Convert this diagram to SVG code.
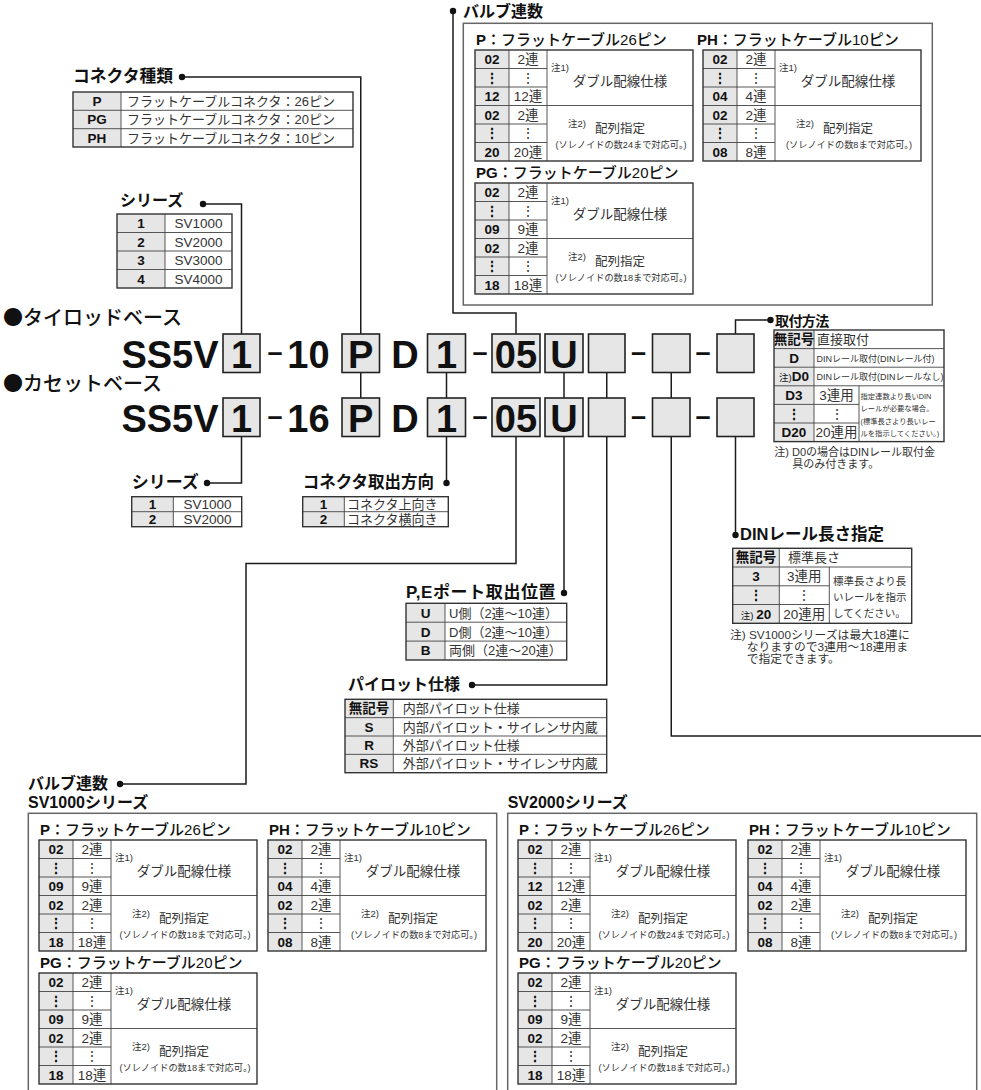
<svg xmlns="http://www.w3.org/2000/svg" width="981" height="1090" viewBox="0 0 981 1090">
<style>
text{font-family:"Liberation Sans","Noto Sans CJK JP",sans-serif;fill:#111}
.h{font-size:16px;font-weight:700}
.tt{font-size:15px;font-weight:500}
.b{font-weight:700}
.c{font-size:13.5px;font-weight:700;text-anchor:middle}
.v{font-size:13px;fill:#333}
.vm{font-size:13.5px;fill:#333;text-anchor:middle}
.n{font-size:9.5px;fill:#333}
.a{font-size:12.5px;fill:#333}
.s{font-size:9.2px;fill:#333;text-anchor:middle}
.t{font-size:10.5px;fill:#333}
.tiny{font-size:7.3px;fill:#333}
.big{font-size:38px;font-weight:700;text-anchor:middle}
.dash{font-size:27px;font-weight:700;text-anchor:middle}
.base{font-family:"Noto Sans CJK JP",sans-serif;font-size:20px;font-weight:500}
.ln{fill:none;stroke:#1a1a1a;stroke-width:1.5}
.box{fill:#e6e6e6;stroke:#222;stroke-width:1.6}
.tb{fill:none;stroke:#333;stroke-width:1.4}
.g{fill:#e6e6e6}
.il{fill:none;stroke:#444;stroke-width:0.9}
.fr{fill:none;stroke:#666;stroke-width:1.5}
.dot{fill:#111}
</style>
<defs>
<g id="vt">
<rect width="34" height="111" class="g"/>
<path class="il" d="M34 0V111M72 0V111M0 18.5H72M0 37H72M0 74H72M0 92.5H72M0 55.5H218"/>
<rect width="218" height="111" class="tb"/>
</g>
</defs>

<!-- connectors -->
<g id="connectors" class="ln">
<path d="M453 11V313H516V334"/>
<path d="M182 77H360.75V334"/>
<path d="M203 204H241.5V334"/>
<path d="M770.5 320H735.5V334"/>
<path d="M360.75 372.5V398M446.5 372.5V398M564 372.5V398M606.75 372.5V398M671.25 372.5V398"/>
<path d="M241.5 436.5V483H207"/>
<path d="M446.5 436.5V483"/>
<path d="M516 436.5V563.5H246V784H120"/>
<path d="M564 436.5V593"/>
<path d="M606.75 436.5V685H472"/>
<path d="M671.25 436.5V736H981"/>
<path d="M735.5 436.5V535"/>
</g>
<g id="dots" class="dot">
<circle cx="453" cy="11" r="3.2"/>
<circle cx="182" cy="77" r="3.2"/>
<circle cx="203" cy="204" r="3.2"/>
<circle cx="770.5" cy="320" r="3.2"/>
<circle cx="207" cy="483" r="3.2"/>
<circle cx="446.5" cy="483" r="3.2"/>
<circle cx="120" cy="784" r="3.2"/>
<circle cx="564" cy="593" r="3.2"/>
<circle cx="472" cy="685" r="3.2"/>
<circle cx="735.5" cy="535" r="3.2"/>
</g>

<!-- top valve count -->
<g id="valve-count-top">
<text class="h" x="463" y="16.5">バルブ連数</text>
<rect class="fr" x="463.3" y="23.3" width="469" height="281.7"/>
<g id="top-p" transform="translate(475,50)">
<text class="tt" x="1" y="-5"><tspan class="b">P</tspan>：フラットケーブル26ピン</text>
<use href="#vt"/>
<text class="c" x="17" y="14">02</text><text class="c" x="17" y="32.5">⋮</text><text class="c" x="17" y="51">12</text>
<text class="c" x="17" y="69.5">02</text><text class="c" x="17" y="88">⋮</text><text class="c" x="17" y="106.5">20</text>
<text class="vm" x="53" y="14">2連</text><text class="vm" x="53" y="32.5">⋮</text><text class="vm" x="53" y="51">12連</text>
<text class="vm" x="53" y="69.5">2連</text><text class="vm" x="53" y="88">⋮</text><text class="vm" x="53" y="106.5">20連</text>
<text class="n" x="76" y="21">注1)</text><text class="vm" x="145" y="36">ダブル配線仕様</text>
<text class="n" x="93" y="77">注2)</text><text class="a" x="120" y="83">配列指定</text>
<text class="s" x="146" y="98">(ソレノイドの数24まで対応可。)</text>
</g>
<g id="top-ph" transform="translate(703,50)">
<text class="tt" x="-6" y="-5"><tspan class="b">PH</tspan>：フラットケーブル10ピン</text>
<use href="#vt"/>
<text class="c" x="17" y="14">02</text><text class="c" x="17" y="32.5">⋮</text><text class="c" x="17" y="51">04</text>
<text class="c" x="17" y="69.5">02</text><text class="c" x="17" y="88">⋮</text><text class="c" x="17" y="106.5">08</text>
<text class="vm" x="53" y="14">2連</text><text class="vm" x="53" y="32.5">⋮</text><text class="vm" x="53" y="51">4連</text>
<text class="vm" x="53" y="69.5">2連</text><text class="vm" x="53" y="88">⋮</text><text class="vm" x="53" y="106.5">8連</text>
<text class="n" x="76" y="21">注1)</text><text class="vm" x="145" y="36">ダブル配線仕様</text>
<text class="n" x="93" y="77">注2)</text><text class="a" x="120" y="83">配列指定</text>
<text class="s" x="146" y="98">(ソレノイドの数8まで対応可。)</text>
</g>
<g id="top-pg" transform="translate(475,183)">
<text class="tt" x="1" y="-5"><tspan class="b">PG</tspan>：フラットケーブル20ピン</text>
<use href="#vt"/>
<text class="c" x="17" y="14">02</text><text class="c" x="17" y="32.5">⋮</text><text class="c" x="17" y="51">09</text>
<text class="c" x="17" y="69.5">02</text><text class="c" x="17" y="88">⋮</text><text class="c" x="17" y="106.5">18</text>
<text class="vm" x="53" y="14">2連</text><text class="vm" x="53" y="32.5">⋮</text><text class="vm" x="53" y="51">9連</text>
<text class="vm" x="53" y="69.5">2連</text><text class="vm" x="53" y="88">⋮</text><text class="vm" x="53" y="106.5">18連</text>
<text class="n" x="76" y="21">注1)</text><text class="vm" x="145" y="36">ダブル配線仕様</text>
<text class="n" x="93" y="77">注2)</text><text class="a" x="120" y="83">配列指定</text>
<text class="s" x="146" y="98">(ソレノイドの数18まで対応可。)</text>
</g>
</g>

<!-- connector kind -->
<g id="connector-kind">
<text class="h" x="73" y="81.5" style="font-size:16.8px">コネクタ種類</text>
<rect x="73" y="92" width="48" height="55" class="g"/>
<path class="il" d="M121 92V147M73 110.3H353M73 128.7H353"/>
<rect class="tb" x="73" y="92" width="280" height="55"/>
<text class="c" x="97" y="106">P</text>
<text class="c" x="97" y="124.3">PG</text>
<text class="c" x="97" y="142.6">PH</text>
<text class="v" x="127" y="106">フラットケーブルコネクタ：26ピン</text>
<text class="v" x="127" y="124.3">フラットケーブルコネクタ：20ピン</text>
<text class="v" x="127" y="142.6">フラットケーブルコネクタ：10ピン</text>
</g>

<!-- series top -->
<g id="series-top">
<text class="h" x="120" y="205.5">シリーズ</text>
<rect x="117" y="214" width="48" height="74" class="g"/>
<path class="il" d="M165 214V288M117 232.5H232M117 251H232M117 269.5H232"/>
<rect class="tb" x="117" y="214" width="115" height="74"/>
<text class="c" x="141" y="228">1</text><text class="c" x="141" y="246.5">2</text><text class="c" x="141" y="265">3</text><text class="c" x="141" y="283.5">4</text>
<text class="vm" x="198.5" y="228">SV1000</text><text class="vm" x="198.5" y="246.5">SV2000</text><text class="vm" x="198.5" y="265">SV3000</text><text class="vm" x="198.5" y="283.5">SV4000</text>
</g>

<!-- model codes -->
<g id="model-code">
<text class="base" x="3" y="325">●タイロッドベース</text>
<text class="base" x="3" y="391">●カセットベース</text>
<g id="row1">
<rect class="box" x="223" y="334" width="37" height="38.5"/>
<rect class="box" x="342" y="334" width="37.5" height="38.5"/>
<rect class="box" x="427.5" y="334" width="38" height="38.5"/>
<rect class="box" x="492" y="334" width="48" height="38.5"/>
<rect class="box" x="545" y="334" width="38" height="38.5"/>
<rect class="box" x="588.5" y="334" width="36.5" height="38.5"/>
<rect class="box" x="652.5" y="334" width="37.5" height="38.5"/>
<rect class="box" x="717" y="334" width="37" height="38.5"/>
<text class="big" x="170" y="368">SS5V</text>
<text class="big" x="241.5" y="368">1</text>
<text class="dash" x="275" y="360.7">–</text>
<text class="big" x="308.5" y="368">10</text>
<text class="big" x="360.75" y="368">P</text>
<text class="big" x="405" y="368">D</text>
<text class="big" x="446.5" y="368">1</text>
<text class="dash" x="480" y="360.7">–</text>
<text class="big" x="516" y="368">05</text>
<text class="big" x="564" y="368">U</text>
<text class="dash" x="638.5" y="360.7">–</text>
<text class="dash" x="703" y="360.7">–</text>
</g>
<g id="row2">
<rect class="box" x="223" y="398" width="37" height="38.5"/>
<rect class="box" x="342" y="398" width="37.5" height="38.5"/>
<rect class="box" x="427.5" y="398" width="38" height="38.5"/>
<rect class="box" x="492" y="398" width="48" height="38.5"/>
<rect class="box" x="545" y="398" width="38" height="38.5"/>
<rect class="box" x="588.5" y="398" width="36.5" height="38.5"/>
<rect class="box" x="652.5" y="398" width="37.5" height="38.5"/>
<rect class="box" x="717" y="398" width="37" height="38.5"/>
<text class="big" x="170" y="432">SS5V</text>
<text class="big" x="241.5" y="432">1</text>
<text class="dash" x="275" y="424.7">–</text>
<text class="big" x="308.5" y="432">16</text>
<text class="big" x="360.75" y="432">P</text>
<text class="big" x="405" y="432">D</text>
<text class="big" x="446.5" y="432">1</text>
<text class="dash" x="480" y="424.7">–</text>
<text class="big" x="516" y="432">05</text>
<text class="big" x="564" y="432">U</text>
<text class="dash" x="638.5" y="424.7">–</text>
<text class="dash" x="703" y="424.7">–</text>
</g>
</g>

<!-- mounting -->
<g id="mounting">
<text class="h" x="775" y="326" style="font-size:14px" letter-spacing="-0.6">取付方法</text>
<rect x="774" y="330" width="40" height="111.6" class="g"/>
<path class="il" d="M814 330V441.6M859 385.8V441.6M774 348.6H944M774 367.2H944M774 385.8H944M774 404.4H859M774 423H859"/>
<rect class="tb" x="774" y="330" width="170" height="111.6"/>
<text class="c" x="794" y="344">無記号</text>
<text class="c" x="794" y="362.7">D</text>
<text class="c" x="794" y="381.3"><tspan font-size="9.5" font-weight="400">注)</tspan>D0</text>
<text class="c" x="794" y="400">D3</text>
<text class="c" x="794" y="418.5">⋮</text>
<text class="c" x="794" y="437">D20</text>
<text class="v" x="817" y="344">直接取付</text>
<text class="v" x="816.5" y="361.5" style="font-size:9px">DINレール取付(DINレール付)</text>
<text class="v" x="816.5" y="380" style="font-size:9px">DINレール取付(DINレールなし)</text>
<text class="vm" x="836.5" y="400">3連用</text>
<text class="vm" x="836.5" y="418.5">⋮</text>
<text class="vm" x="836.5" y="437">20連用</text>
<text class="tiny" x="860.5" y="398.5">指定連数より長いDIN</text>
<text class="tiny" x="860.5" y="411">レールが必要な場合。</text>
<text class="tiny" x="860.5" y="423.5">(標準長さより長いレー</text>
<text class="tiny" x="860.5" y="436">ルを指示してください。)</text>
<text class="t" x="774.3" y="456" style="font-size:11px">注) D0の場合はDINレール取付金</text>
<text class="t" x="792.3" y="468" style="font-size:11px">具のみ付きます。</text>
</g>

<!-- series bottom -->
<g id="series-bottom">
<text class="h" x="131.7" y="487.5" style="font-size:17px">シリーズ</text>
<rect x="131.7" y="496.7" width="41.6" height="30" class="g"/>
<path class="il" d="M173.3 496.7V526.7M131.7 511.7H241.7"/>
<rect class="tb" x="131.7" y="496.7" width="110" height="30"/>
<text class="c" x="152.5" y="509">1</text><text class="c" x="152.5" y="524">2</text>
<text class="vm" x="207.5" y="509">SV1000</text><text class="vm" x="207.5" y="524">SV2000</text>
</g>

<!-- connector direction -->
<g id="connector-direction">
<text class="h" x="302.7" y="487.5" style="font-size:16.5px">コネクタ取出方向</text>
<rect x="302.7" y="496.7" width="41.6" height="30" class="g"/>
<path class="il" d="M344.3 496.7V526.7M302.7 511.7H448.3"/>
<rect class="tb" x="302.7" y="496.7" width="145.6" height="30"/>
<text class="c" x="323.5" y="509">1</text><text class="c" x="323.5" y="524">2</text>
<text class="v" x="347" y="509">コネクタ上向き</text><text class="v" x="347" y="524">コネクタ横向き</text>
</g>

<!-- DIN rail length -->
<g id="din-rail">
<text class="h" x="740" y="540" style="font-size:16.5px">DINレール長さ指定</text>
<rect x="732.7" y="548.3" width="46.6" height="75" class="g"/>
<path class="il" d="M779.3 548.3V623.3M829.3 567V623.3M732.7 567H911.7M732.7 585.8H829.3M732.7 604.5H829.3"/>
<rect class="tb" x="732.7" y="548.3" width="179" height="75"/>
<text class="c" x="756" y="562.4">無記号</text>
<text class="c" x="756" y="581.2">3</text>
<text class="c" x="756" y="600">⋮</text>
<text class="c" x="756" y="618.7"><tspan font-size="9.5" font-weight="400">注) </tspan>20</text>
<text class="v" x="788" y="562.4">標準長さ</text>
<text class="vm" x="804.3" y="581.2">3連用</text>
<text class="vm" x="804.3" y="600">⋮</text>
<text class="vm" x="804.3" y="618.7">20連用</text>
<text class="t" x="833" y="585">標準長さより長</text>
<text class="t" x="833" y="601">いレールを指示</text>
<text class="t" x="833" y="617">してください。</text>
<text class="t" x="730" y="639" style="font-size:11.8px">注) SV1000シリーズは最大18連に</text>
<text class="t" x="746.7" y="651" style="font-size:11.8px">なりますので3連用〜18連用ま</text>
<text class="t" x="746.7" y="663" style="font-size:11.8px">で指定できます。</text>
</g>

<!-- P,E port -->
<g id="pe-port">
<text class="h" x="406" y="597.5" style="font-size:17px" letter-spacing="0.6">P,Eポート取出位置</text>
<rect x="406" y="603.3" width="39" height="56.7" class="g"/>
<path class="il" d="M445 603.3V660M406 622.2H566.7M406 641.1H566.7"/>
<rect class="tb" x="406" y="603.3" width="160.7" height="56.7"/>
<text class="c" x="425.5" y="617.6">U</text><text class="c" x="425.5" y="636.5">D</text><text class="c" x="425.5" y="655.4">B</text>
<text class="v" x="449" y="617.6">U側（2連〜10連）</text>
<text class="v" x="449" y="636.5">D側（2連〜10連）</text>
<text class="v" x="449" y="655.4">両側（2連〜20連）</text>
</g>

<!-- pilot -->
<g id="pilot">
<text class="h" x="348" y="689.5">パイロット仕様</text>
<rect x="345" y="699.3" width="48.3" height="73.4" class="g"/>
<path class="il" d="M393.3 699.3V772.7M345 717.65H606.7M345 736H606.7M345 754.35H606.7"/>
<rect class="tb" x="345" y="699.3" width="261.7" height="73.4"/>
<text class="c" x="369" y="713.3">無記号</text><text class="c" x="369" y="731.6">S</text><text class="c" x="369" y="750">R</text><text class="c" x="369" y="768.3">RS</text>
<text class="v" x="402.7" y="713.3">内部パイロット仕様</text>
<text class="v" x="402.7" y="731.6">内部パイロット・サイレンサ内蔵</text>
<text class="v" x="402.7" y="750">外部パイロット仕様</text>
<text class="v" x="402.7" y="768.3">外部パイロット・サイレンサ内蔵</text>
</g>

<!-- bottom valve count -->
<g id="valve-count-bottom">
<text class="h" x="28" y="789">バルブ連数</text>
<text class="h" x="28" y="807.5">SV1000シリーズ</text>
<text class="h" x="507.7" y="807.5">SV2000シリーズ</text>
<rect class="fr" x="28.3" y="813.3" width="468.4" height="300"/>
<rect class="fr" x="507.7" y="813.3" width="469" height="300"/>

<g id="sv1-p" transform="translate(39,840)">
<text class="tt" x="1" y="-5"><tspan class="b">P</tspan>：フラットケーブル26ピン</text>
<use href="#vt"/>
<text class="c" x="17" y="14">02</text><text class="c" x="17" y="32.5">⋮</text><text class="c" x="17" y="51">09</text>
<text class="c" x="17" y="69.5">02</text><text class="c" x="17" y="88">⋮</text><text class="c" x="17" y="106.5">18</text>
<text class="vm" x="53" y="14">2連</text><text class="vm" x="53" y="32.5">⋮</text><text class="vm" x="53" y="51">9連</text>
<text class="vm" x="53" y="69.5">2連</text><text class="vm" x="53" y="88">⋮</text><text class="vm" x="53" y="106.5">18連</text>
<text class="n" x="76" y="21">注1)</text><text class="vm" x="145" y="36">ダブル配線仕様</text>
<text class="n" x="93" y="77">注2)</text><text class="a" x="120" y="83">配列指定</text>
<text class="s" x="146" y="98">(ソレノイドの数18まで対応可。)</text>
</g>
<g id="sv1-ph" transform="translate(268,840)">
<text class="tt" x="1" y="-5"><tspan class="b">PH</tspan>：フラットケーブル10ピン</text>
<use href="#vt"/>
<text class="c" x="17" y="14">02</text><text class="c" x="17" y="32.5">⋮</text><text class="c" x="17" y="51">04</text>
<text class="c" x="17" y="69.5">02</text><text class="c" x="17" y="88">⋮</text><text class="c" x="17" y="106.5">08</text>
<text class="vm" x="53" y="14">2連</text><text class="vm" x="53" y="32.5">⋮</text><text class="vm" x="53" y="51">4連</text>
<text class="vm" x="53" y="69.5">2連</text><text class="vm" x="53" y="88">⋮</text><text class="vm" x="53" y="106.5">8連</text>
<text class="n" x="76" y="21">注1)</text><text class="vm" x="145" y="36">ダブル配線仕様</text>
<text class="n" x="93" y="77">注2)</text><text class="a" x="120" y="83">配列指定</text>
<text class="s" x="146" y="98">(ソレノイドの数8まで対応可。)</text>
</g>
<g id="sv1-pg" transform="translate(39,973)">
<text class="tt" x="1" y="-5"><tspan class="b">PG</tspan>：フラットケーブル20ピン</text>
<use href="#vt"/>
<text class="c" x="17" y="14">02</text><text class="c" x="17" y="32.5">⋮</text><text class="c" x="17" y="51">09</text>
<text class="c" x="17" y="69.5">02</text><text class="c" x="17" y="88">⋮</text><text class="c" x="17" y="106.5">18</text>
<text class="vm" x="53" y="14">2連</text><text class="vm" x="53" y="32.5">⋮</text><text class="vm" x="53" y="51">9連</text>
<text class="vm" x="53" y="69.5">2連</text><text class="vm" x="53" y="88">⋮</text><text class="vm" x="53" y="106.5">18連</text>
<text class="n" x="76" y="21">注1)</text><text class="vm" x="145" y="36">ダブル配線仕様</text>
<text class="n" x="93" y="77">注2)</text><text class="a" x="120" y="83">配列指定</text>
<text class="s" x="146" y="98">(ソレノイドの数18まで対応可。)</text>
</g>

<g id="sv2-p" transform="translate(518,840)">
<text class="tt" x="1" y="-5"><tspan class="b">P</tspan>：フラットケーブル26ピン</text>
<use href="#vt"/>
<text class="c" x="17" y="14">02</text><text class="c" x="17" y="32.5">⋮</text><text class="c" x="17" y="51">12</text>
<text class="c" x="17" y="69.5">02</text><text class="c" x="17" y="88">⋮</text><text class="c" x="17" y="106.5">20</text>
<text class="vm" x="53" y="14">2連</text><text class="vm" x="53" y="32.5">⋮</text><text class="vm" x="53" y="51">12連</text>
<text class="vm" x="53" y="69.5">2連</text><text class="vm" x="53" y="88">⋮</text><text class="vm" x="53" y="106.5">20連</text>
<text class="n" x="76" y="21">注1)</text><text class="vm" x="145" y="36">ダブル配線仕様</text>
<text class="n" x="93" y="77">注2)</text><text class="a" x="120" y="83">配列指定</text>
<text class="s" x="146" y="98">(ソレノイドの数24まで対応可。)</text>
</g>
<g id="sv2-ph" transform="translate(748,840)">
<text class="tt" x="1" y="-5"><tspan class="b">PH</tspan>：フラットケーブル10ピン</text>
<use href="#vt"/>
<text class="c" x="17" y="14">02</text><text class="c" x="17" y="32.5">⋮</text><text class="c" x="17" y="51">04</text>
<text class="c" x="17" y="69.5">02</text><text class="c" x="17" y="88">⋮</text><text class="c" x="17" y="106.5">08</text>
<text class="vm" x="53" y="14">2連</text><text class="vm" x="53" y="32.5">⋮</text><text class="vm" x="53" y="51">4連</text>
<text class="vm" x="53" y="69.5">2連</text><text class="vm" x="53" y="88">⋮</text><text class="vm" x="53" y="106.5">8連</text>
<text class="n" x="76" y="21">注1)</text><text class="vm" x="145" y="36">ダブル配線仕様</text>
<text class="n" x="93" y="77">注2)</text><text class="a" x="120" y="83">配列指定</text>
<text class="s" x="146" y="98">(ソレノイドの数8まで対応可。)</text>
</g>
<g id="sv2-pg" transform="translate(518,973)">
<text class="tt" x="1" y="-5"><tspan class="b">PG</tspan>：フラットケーブル20ピン</text>
<use href="#vt"/>
<text class="c" x="17" y="14">02</text><text class="c" x="17" y="32.5">⋮</text><text class="c" x="17" y="51">09</text>
<text class="c" x="17" y="69.5">02</text><text class="c" x="17" y="88">⋮</text><text class="c" x="17" y="106.5">18</text>
<text class="vm" x="53" y="14">2連</text><text class="vm" x="53" y="32.5">⋮</text><text class="vm" x="53" y="51">9連</text>
<text class="vm" x="53" y="69.5">2連</text><text class="vm" x="53" y="88">⋮</text><text class="vm" x="53" y="106.5">18連</text>
<text class="n" x="76" y="21">注1)</text><text class="vm" x="145" y="36">ダブル配線仕様</text>
<text class="n" x="93" y="77">注2)</text><text class="a" x="120" y="83">配列指定</text>
<text class="s" x="146" y="98">(ソレノイドの数18まで対応可。)</text>
</g>
</g>
</svg>
